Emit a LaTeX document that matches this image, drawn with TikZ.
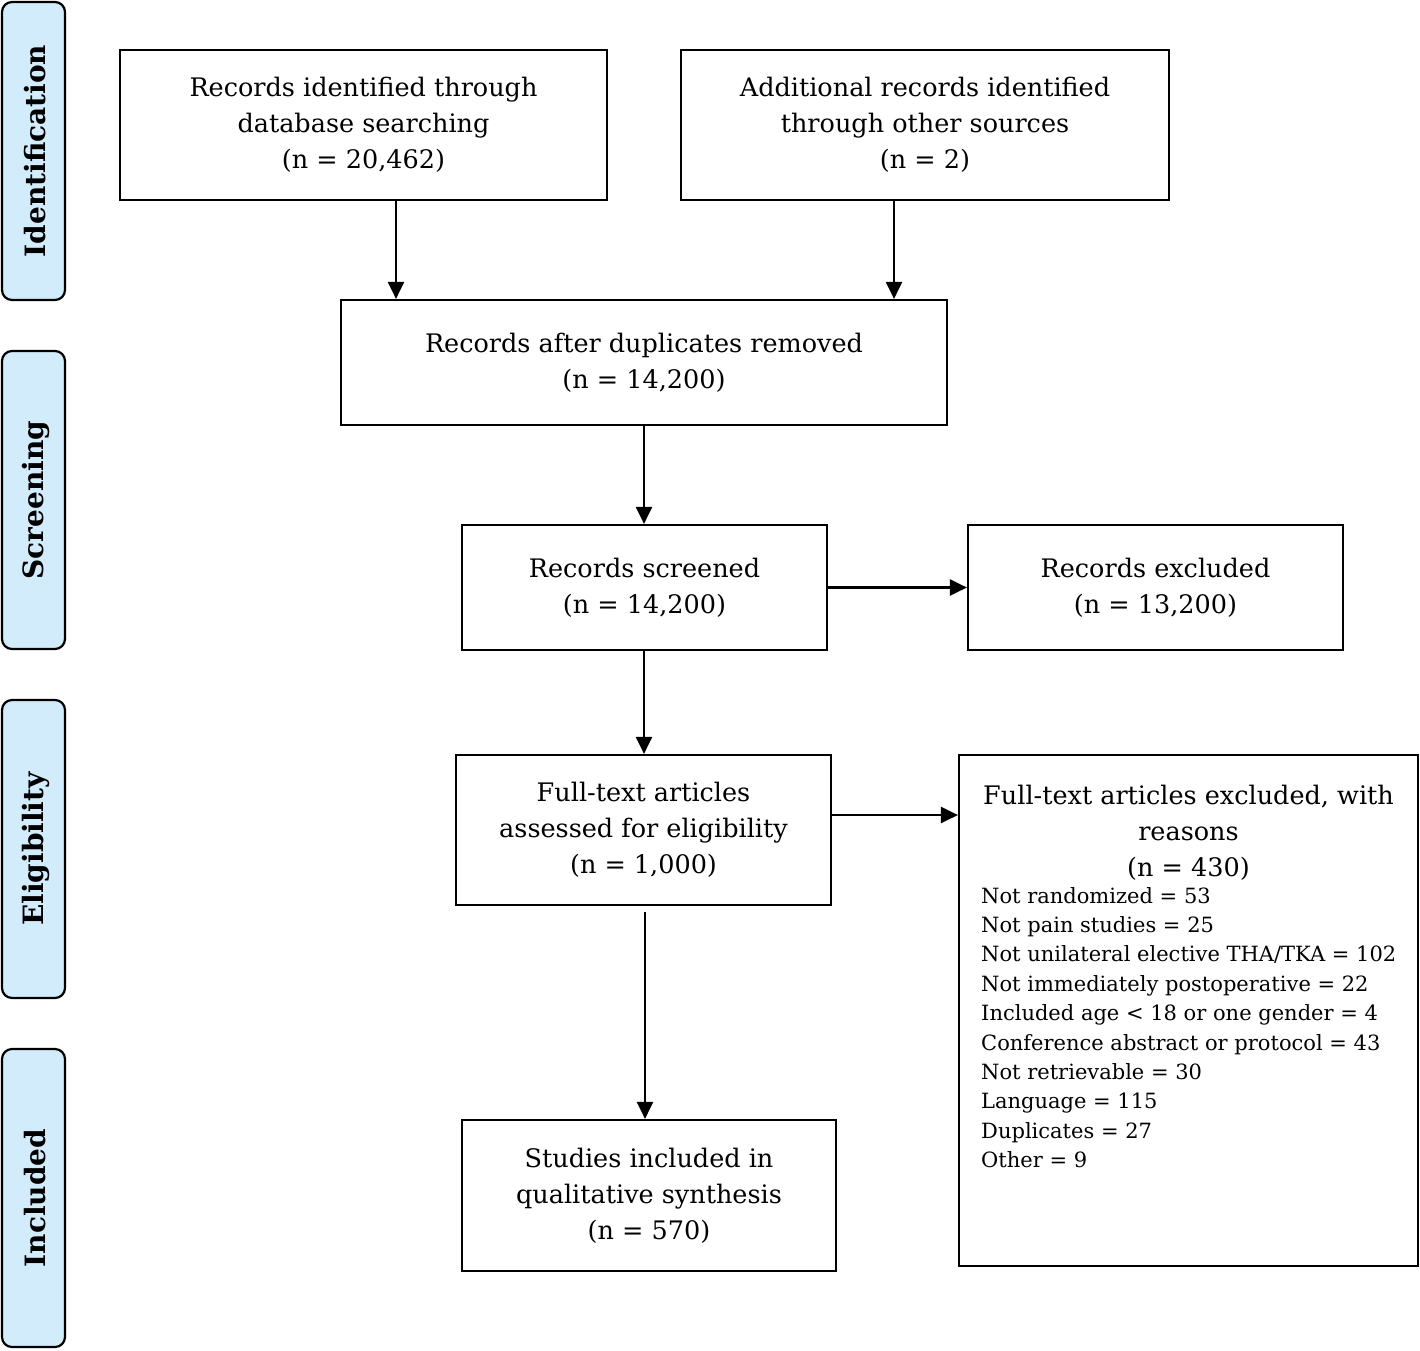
\documentclass[tikz,border=0pt]{standalone}
\usepackage{fontspec}
\setmainfont{DejaVu Serif}
\usetikzlibrary{arrows.meta,positioning}
\definecolor{sidefill}{HTML}{D2ECFB}
\tikzset{
  box/.style={draw=black, line width=2.2pt, fill=white, align=center, inner sep=0pt,
              font=\fontsize{25.5}{36}\selectfont},
  side/.style={draw=black, line width=2.2pt, fill=sidefill, rounded corners=10pt,
               minimum width=63pt, minimum height=298pt, inner sep=0pt},
  sidetext/.style={rotate=90, font=\fontsize{28}{34}\selectfont\bfseries},
  arr/.style={-{Triangle[length=17pt,width=16pt]}, line width=2.2pt},
}
\begin{document}
\begin{tikzpicture}[x=1pt,y=-1pt]
\useasboundingbox (0,0) rectangle (1420,1350);
% side bars
\node[side] (s1) at (33.5,151) {};
\node[sidetext] at ([xshift=2pt]s1) {Identification};
\node[side] (s2) at (33.5,500) {};
\node[sidetext] at ([xshift=2pt]s2) {Screening};
\node[side] (s3) at (33.5,849) {};
\node[sidetext] at ([xshift=2pt]s3) {Eligibility};
\node[side] (s4) at (33.5,1198) {};
\node[sidetext] at ([xshift=2pt]s4) {Included};
% boxes
\node[box, minimum width=487pt, minimum height=150pt] (b1) at (363.5,125)
  {Records identified through\\database searching\\(n = 20,462)};
\node[box, minimum width=488pt, minimum height=150pt] (b2) at (925,125)
  {Additional records identified\\through other sources\\(n = 2)};
\node[box, minimum width=606pt, minimum height=125pt] (b3) at (644,362.5)
  {Records after duplicates removed\\(n = 14,200)};
\node[box, minimum width=365pt, minimum height=125pt] (b4) at (644.5,587.5)
  {Records screened\\(n = 14,200)};
\node[box, minimum width=375pt, minimum height=125pt] (b5) at (1155.5,587.5)
  {Records excluded\\(n = 13,200)};
\node[box, minimum width=375pt, minimum height=150pt] (b6) at (643.5,830)
  {Full-text articles\\assessed for eligibility\\(n = 1,000)};
\node[box, minimum width=459pt, minimum height=511pt] (b7) at (1188.5,1010.5) {};
\node[align=center, anchor=north, inner sep=0pt, font=\fontsize{25.5}{36}\selectfont] (b7t) at (1188.5,785)
  {Full-text articles excluded, with\\reasons\\(n = 430)};
\node[align=left, anchor=north west, inner sep=0pt, font=\fontsize{21}{29.4}\selectfont] (b7l) at (981,887)
  {Not randomized = 53\\Not pain studies = 25\\Not unilateral elective THA/TKA = 102\\Not immediately postoperative = 22\\Included age < 18 or one gender = 4\\Conference abstract or protocol = 43\\Not retrievable = 30\\Language = 115\\Duplicates = 27\\Other = 9};
\node[box, minimum width=374pt, minimum height=151pt] (b8) at (649,1195.5)
  {Studies included in\\qualitative synthesis\\(n = 570)};
% connectors
\coordinate (c6) at (645,912);
\draw[arr] (b1.south -| 396,0) -- (b3.north -| 396,0);
\draw[arr] (b2.south -| 894,0) -- (b3.north -| 894,0);
\draw[arr] (b3.south -| 644,0) -- (b4.north -| 644,0);
\draw[arr] (b4.east) -- (b5.west);
\draw[arr] (b4.south -| 644,0) -- (b6.north -| 644,0);
\draw[arr] (b6.east |- 0,815) -- (b7.west |- 0,815);
\draw[arr] (c6) -- (b8.north -| 645,0);
\end{tikzpicture}
\end{document}
